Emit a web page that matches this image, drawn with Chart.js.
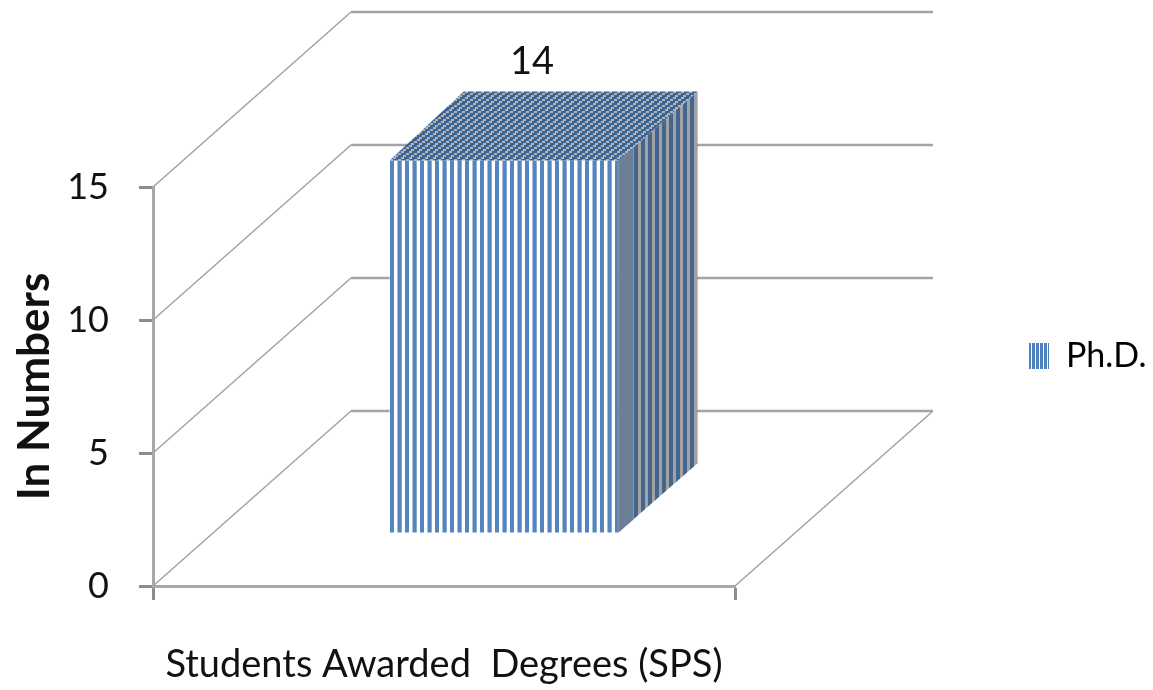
<!DOCTYPE html>
<html>
<head>
<meta charset="utf-8">
<style>html,body{margin:0;padding:0;background:#fff}#w{width:1153px;height:690px}</style>
<script src="https://cdn.jsdelivr.net/npm/chart.js@4"></script>
</head>
<body>
<div id="w"><canvas id="c"></canvas></div>
<script>
const categories = ['Students Awarded  Degrees (SPS)'];
const seriesName = 'Ph.D.';
const values = [14];
const yTicks = [0, 5, 10, 15];

const FONT = 'Lato,"Liberation Sans",sans-serif';
const WALL = {dx: 198, dy: -175, rightEnd: 933};
const BAR_PLANE = {dx: 60, dy: -53};
const BAR_DEPTH = {dxL: 74, dxR: 79, dy: -69};

function makePattern(w, h, paint) {
  const cv = document.createElement('canvas');
  cv.width = w; cv.height = h;
  paint(cv.getContext('2d'));
  return cv;
}
const ctxMain = document.getElementById('c').getContext('2d');
const frontPat = ctxMain.createPattern(makePattern(15, 4, g => {
  g.fillStyle = '#fff'; g.fillRect(0, 0, 15, 4);
  g.fillStyle = '#5585c0'; g.fillRect(0, 0, 4, 4); g.fillRect(7.5, 0, 4.2, 4);
}), 'repeat');
const legendPat = ctxMain.createPattern(makePattern(4, 4, g => {
  g.fillStyle = '#fff'; g.fillRect(0, 0, 4, 4);
  g.fillStyle = '#4f81bd'; g.fillRect(0, 0, 3, 4);
}), 'repeat');
const sidePat = ctxMain.createPattern(makePattern(7, 4, g => {
  g.fillStyle = '#a0a2a6'; g.fillRect(0, 0, 7, 4);
  g.fillStyle = '#45658c'; g.fillRect(0, 0, 4, 4);
}), 'repeat');
const topPat = ctxMain.createPattern(makePattern(8, 6, g => {
  g.fillStyle = '#b2b4b8'; g.fillRect(0, 0, 8, 6);
  g.fillStyle = '#3a6494';
  g.fillRect(0, 0, 5, 2); g.fillRect(5, 2, 3, 2); g.fillRect(0, 2, 2, 2); g.fillRect(2, 4, 5, 2);
}), 'repeat');

const walls3d = {
  id: 'walls3d',
  beforeDatasetsDraw(chart) {
    const {ctx, scales: {x, y}} = chart;
    const left = x.left, right = x.right;
    ctx.save();
    ctx.lineCap = 'butt';
    yTicks.forEach(t => {
      const py = y.getPixelForValue(t);
      ctx.strokeStyle = '#a4a4a4'; ctx.lineWidth = 1.6;
      ctx.beginPath(); ctx.moveTo(left, py); ctx.lineTo(left + WALL.dx, py + WALL.dy); ctx.stroke();
      ctx.lineWidth = 2.5;
      ctx.beginPath(); ctx.moveTo(left + WALL.dx, py + WALL.dy); ctx.lineTo(WALL.rightEnd, py + WALL.dy); ctx.stroke();
    });
    const py0 = y.getPixelForValue(0);
    ctx.lineWidth = 1.6;
    ctx.beginPath(); ctx.moveTo(right, py0); ctx.lineTo(WALL.rightEnd, py0 + WALL.dy); ctx.stroke();
    ctx.restore();
  },
  beforeDatasetDraw(chart) {
    chart.ctx.save();
    chart.ctx.translate(BAR_PLANE.dx, BAR_PLANE.dy);
  },
  afterDatasetDraw(chart, args) {
    const {ctx} = chart;
    const el = args.meta.data[0];
    const l = el.x - el.width / 2, r = el.x + el.width / 2, t = el.y, b = el.base;
    ctx.beginPath();
    ctx.moveTo(r, t); ctx.lineTo(r + BAR_DEPTH.dxR, t + BAR_DEPTH.dy);
    ctx.lineTo(r + BAR_DEPTH.dxR, b + BAR_DEPTH.dy); ctx.lineTo(r, b); ctx.closePath();
    ctx.fillStyle = sidePat; ctx.fill();
    ctx.beginPath();
    ctx.moveTo(r, t); ctx.lineTo(r + 15, t + BAR_DEPTH.dy * 15 / BAR_DEPTH.dxR);
    ctx.lineTo(r + 15, b + BAR_DEPTH.dy * 15 / BAR_DEPTH.dxR); ctx.lineTo(r, b); ctx.closePath();
    ctx.fillStyle = '#6b7f96'; ctx.fill();
    ctx.beginPath();
    ctx.moveTo(l, t); ctx.lineTo(l + BAR_DEPTH.dxL, t + BAR_DEPTH.dy);
    ctx.lineTo(r + BAR_DEPTH.dxR, t + BAR_DEPTH.dy); ctx.lineTo(r, t); ctx.closePath();
    ctx.fillStyle = topPat; ctx.fill();
    ctx.restore();
    ctx.save();
    ctx.fillStyle = '#111';
    ctx.font = '38px ' + FONT;
    ctx.textAlign = 'center'; ctx.textBaseline = 'middle';
    ctx.fillText(String(values[0]), el.x + BAR_PLANE.dx + 28, t + BAR_PLANE.dy + BAR_DEPTH.dy - 30);
    ctx.restore();
  },
  afterLayout(chart) {
    const lg = chart.legend;
    lg.left = 1029; lg.right = 1153; lg.top = 302; lg.bottom = 410;
  }
};

new Chart(ctxMain, {
  type: 'bar',
  data: {
    labels: categories,
    datasets: [{
      label: seriesName,
      data: values,
      backgroundColor: frontPat,
      borderWidth: 0,
      barPercentage: 0.393,
      categoryPercentage: 1,
      clip: false
    }]
  },
  options: {
    responsive: true,
    maintainAspectRatio: false,
    animation: false,
    devicePixelRatio: 1,
    layout: {padding: {top: 187, right: 418, bottom: 0, left: 0}},
    plugins: {
      tooltip: {enabled: false},
      title: {display: false},
      legend: {
        display: true,
        position: 'chartArea',
        align: 'center',
        labels: {
          boxWidth: 20, boxHeight: 26, padding: 0, color: '#111',
          font: {family: FONT, size: 34},
          generateLabels: () => [{text: seriesName, fillStyle: legendPat, strokeStyle: 'transparent', lineWidth: 0, hidden: false, datasetIndex: 0}]
        }
      }
    },
    scales: {
      x: {
        type: 'category',
        afterFit(s) { s.height = 104; },
        border: {display: true, color: '#a8a8a8', width: 3},
        grid: {drawOnChartArea: false, drawTicks: true, tickLength: 14, tickWidth: 3, tickColor: '#8c8c8c', offset: true},
        ticks: {color: '#111', padding: 42, maxRotation: 0, font: {family: FONT, size: 38}}
      },
      y: {
        type: 'linear',
        min: yTicks[0],
        max: yTicks[yTicks.length - 1],
        afterFit(s) { s.width = 153; },
        afterBuildTicks(s) { s.ticks = yTicks.map(v => ({value: v})); },
        border: {display: true, color: '#a8a8a8', width: 3},
        grid: {drawOnChartArea: false, drawTicks: true, tickLength: 14, tickWidth: 3, tickColor: '#8c8c8c'},
        ticks: {color: '#111', padding: 30, font: {family: FONT, size: 36}},
        title: {display: true, text: 'In Numbers', color: '#111', padding: {top: 8, bottom: 0},
          font: {family: FONT, size: 44, weight: 'bold'}}
      }
    }
  },
  plugins: [walls3d]
});
</script>
</body>
</html>
